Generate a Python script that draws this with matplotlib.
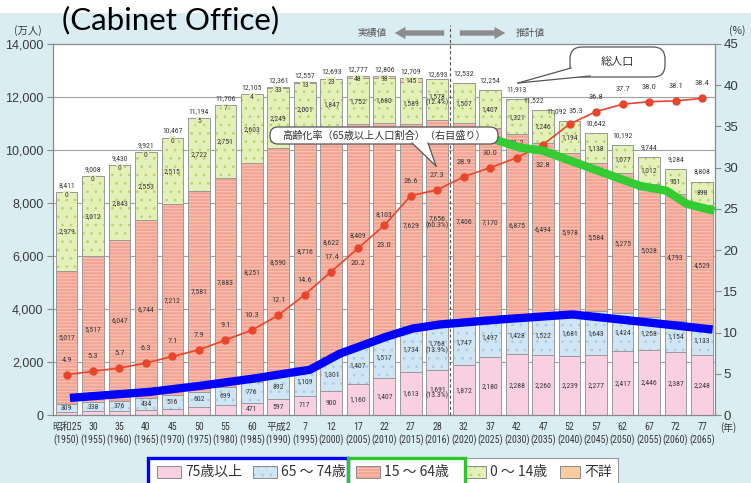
import numpy as np
import matplotlib
matplotlib.use('Agg')
import matplotlib.pyplot as plt
from matplotlib import font_manager as fm
from matplotlib.patches import Rectangle, FancyBboxPatch, Polygon, FancyArrowPatch
from matplotlib.lines import Line2D

# ---------------- data ----------------
era_labels = ['昭和25', '30', '35', '40', '45', '50', '55', '60', '平成2', '7', '12', '17',
              '22', '27', '28', '32', '37', '42', '47', '52', '57', '62', '67', '72', '77']
year_labels = [1950, 1955, 1960, 1965, 1970, 1975, 1980, 1985, 1990, 1995, 2000, 2005,
               2010, 2015, 2016, 2020, 2025, 2030, 2035, 2040, 2045, 2050, 2055, 2060, 2065]
pop_75plus = [107, 139, 164, 189, 224, 284, 366, 471, 597, 717, 900, 1160, 1407, 1613, 1691,
              1872, 2180, 2288, 2260, 2239, 2277, 2417, 2446, 2387, 2248]
pop_65_74 = [309, 338, 376, 434, 516, 602, 699, 776, 892, 1109, 1301, 1407, 1517, 1734, 1768,
             1747, 1497, 1428, 1522, 1681, 1643, 1424, 1258, 1154, 1133]
pop_15_64 = [5017, 5517, 6047, 6744, 7212, 7581, 7883, 8251, 8590, 8716, 8622, 8409, 8103, 7629,
             7656, 7406, 7170, 6875, 6494, 5978, 5584, 5275, 5028, 4793, 4529]
pop_0_14 = [2979, 3012, 2843, 2553, 2515, 2722, 2751, 2603, 2249, 2001, 1847, 1752, 1680, 1589,
            1578, 1507, 1407, 1321, 1246, 1194, 1138, 1077, 1012, 951, 898]
pop_unknown = [0, 0, 0, 0, 0, 5, 7, 4, 33, 13, 23, 48, 98, 145] + [np.nan] * 11
total_pop = [8411, 9008, 9430, 9921, 10467, 11194, 11706, 12105, 12361, 12557, 12693, 12777,
             12806, 12709, 12693, 12532, 12254, 11913, 11522, 11092, 10642, 10192, 9744, 9284, 8808]
aging_rate = [4.9, 5.3, 5.7, 6.3, 7.1, 7.9, 9.1, 10.3, 12.1, 14.6, 17.4, 20.2, 23.0, 26.6, 27.3,
              28.9, 30.0, 31.2, 32.8, 35.3, 36.8, 37.7, 38.0, 38.1, 38.4]
share_2016 = {'75plus': '(13.3%)', '65_74': '(13.9%)', '15_64': '(60.3%)', '0_14': '(12.4%)'}
left_ticks = [0, 2000, 4000, 6000, 8000, 10000, 12000, 14000]
right_ticks = [0, 5, 10, 15, 20, 25, 30, 35, 40, 45]
legend_labels = ['75歳以上', '65 ～ 74歳', '15 ～ 64歳', '0 ～ 14歳', '不詳']
# hand-drawn highlight strokes (x = bar index, y = 万人)
blue_x = [0.13, 3.15, 5.04, 7.0, 9.19, 10.32, 12.09, 13.08, 14.09, 16.36, 19.11, 21.64, 24.4]
blue_y = [645, 873, 1100, 1366, 1707, 2314, 2959, 3263, 3415, 3604, 3794, 3528, 3225]
green_x = [16.06, 17.11, 17.98, 19.75, 21.64, 22.66, 23.42, 24.47]
green_y = [10434, 10092, 9979, 9334, 8650, 8461, 7968, 7702]

# ---------------- fonts ----------------
names = {f.name for f in fm.fontManager.ttflist}
NARROW = next((n for n in ['Liberation Sans Narrow', 'Roboto Condensed', 'Open Sans Condensed']
               if n in names), 'Liberation Sans')
JP = 'Noto Sans CJK JP'
NUMF = [NARROW, JP, 'DejaVu Sans']
JPF = [JP, 'DejaVu Sans']
plt.rcParams['font.family'] = NUMF
plt.rcParams['hatch.linewidth'] = 0.7

# ---------------- colours ----------------
BG = '#d9edf2'
C75 = '#f8d0e1'
C65 = '#cfe5f4'
C65H = '#a9cbe6'
C15 = '#f4a492'
C15H = '#f9c8bc'
C0 = '#e3f0b8'
C0H = '#b9d274'
CUN = '#f8cba0'
EDGE = '#9a9a9a'
TXT = '#3a3a3a'
RED = '#e8452c'

W, H = 751, 483
def fx(px): return px / W
def fy(py): return 1 - py / H
PXD = 14000 / 371.0   # data units per pixel (left axis)

fig = plt.figure(figsize=(W / 100, H / 100), dpi=100, facecolor=BG)
fig.patches.append(Rectangle((0, fy(13)), 1, 13 / H, transform=fig.transFigure,
                             facecolor='white', edgecolor='none', zorder=0))

ax = fig.add_axes([fx(53), fy(415), (715 - 53) / W, (415 - 44) / H])
ax.set_facecolor('white')
ax.set_xlim(-0.51, 24.49)
ax.set_ylim(0, 14000)
x = np.arange(len(era_labels))
bw = 0.82

ax.set_axisbelow(True)
ax.grid(axis='y', color='#a0a0a0', lw=0.8)

def seg(vals, bottom, fc, hatch=None, hc=None):
    ax.bar(x, vals, bw, bottom=bottom, color=fc, lw=0, zorder=2)
    if hatch:
        ax.bar(x, vals, bw, bottom=bottom, fill=False, hatch=hatch, edgecolor=hc, lw=0, zorder=2.1)
    ax.bar(x, vals, bw, bottom=bottom, fill=False, edgecolor=EDGE, lw=0.7, zorder=2.2)

a75 = np.array(pop_75plus, float)
a65 = np.array(pop_65_74, float)
a15 = np.array(pop_15_64, float)
a0 = np.array(pop_0_14, float)
aun = np.nan_to_num(np.array(pop_unknown, float))
b1 = a75
b2 = b1 + a65
b3 = b2 + a15
b4 = b3 + a0
top = b4 + aun

seg(a75, 0, C75)
seg(a65, b1, C65, '..', C65H)
seg(a15, b2, C15, '-----', C15H)
seg(a0, b3, C0, '..', C0H)
seg(aun, b4, CUN)

def lab(xi, yi, s, dx=0, dy=0, fs=5.6, **kw):
    ax.annotate(s, (xi, yi), xytext=(dx * 0.72, dy * 0.72), textcoords='offset points',
                ha='center', va='center', fontsize=fs, color=TXT, zorder=6,
                family=NUMF, linespacing=1.0, **kw)

for i in x:
    # 75+
    s = f'{pop_75plus[i]:,}'
    if i == 14:
        s += '\n' + share_2016['75plus']
    if a75[i] < 400:
        lab(i, -45, s)
    else:
        lab(i, a75[i] / 2, s)
    # 65-74
    s = f'{pop_65_74[i]:,}'
    if i == 14:
        s += '\n' + share_2016['65_74']
    lab(i, b1[i] + a65[i] / 2, s)
    # 15-64
    s = f'{pop_15_64[i]:,}'
    if i == 14:
        s += '\n' + share_2016['15_64']
    lab(i, b2[i] + a15[i] / 2, s, dy=16 if i == 12 else 0)
    # 0-14
    s = f'{pop_0_14[i]:,}'
    if i == 14:
        s += '\n' + share_2016['0_14']
    lab(i, b3[i] + a0[i] / 2, s)
    # unknown
    if not np.isnan(pop_unknown[i]):
        lab(i, top[i], f'{int(pop_unknown[i]):,}', dy=-3,
            bbox=dict(boxstyle='square,pad=0.15', fc=C0, ec='none'))
    # total
    tdy = 7 if i <= 13 else (4 if i == 14 else 10)
    tdx = {18: -9, 19: -13}.get(i, 0)
    lab(i, top[i], f'{total_pop[i]:,}', dx=tdx, dy=tdy)

# projection divider
ax.plot([14.5, 14.5], [0, 390 * PXD], ls=(0, (3, 2)), color='#555555', lw=0.8,
        clip_on=False, zorder=3)

# axes styling
for sp in ['left', 'bottom', 'top']:
    ax.spines[sp].set_color('#8a8a8a')
    ax.spines[sp].set_linewidth(0.9)
ax.spines['right'].set_visible(False)
ax.set_yticks(left_ticks, [f'{v:,}' for v in left_ticks])
ax.tick_params(axis='y', direction='out', length=4, color='#8a8a8a', pad=3,
               labelsize=9, labelcolor=TXT)
for t in ax.get_yticklabels():
    t.set_family(['Liberation Sans', 'DejaVu Sans'])
ax.set_xticks(x, [f'{e}\n({y})' for e, y in zip(era_labels, year_labels)])
ax.tick_params(axis='x', length=0, pad=5, labelsize=7.1, labelcolor=TXT)
for t in ax.get_xticklabels():
    t.set_family(NUMF)
    t.set_linespacing(1.3)

# aging rate on right axis
ax2 = ax.twinx()
ax2.set_ylim(0, 45)
ax2.set_yticks(right_ticks)
for sp in ['left', 'bottom', 'top']:
    ax2.spines[sp].set_visible(False)
ax2.spines['right'].set_color('#8a8a8a')
ax2.spines['right'].set_linewidth(0.9)
ax2.tick_params(axis='y', direction='out', length=4, color='#8a8a8a', pad=2,
                labelsize=9.5, labelcolor=TXT)
for t in ax2.get_yticklabels():
    t.set_family(['Liberation Sans', 'DejaVu Sans'])
ax2.plot(x, aging_rate, color=RED, lw=1.2, marker='o', ms=5, zorder=4)
rate_off = {11: (0, -15), 12: (0, -20), 18: (0, -20), 19: (6, 13)}
for i, v in enumerate(aging_rate):
    ddx, ddy = rate_off.get(i, (0, 15))
    ax2.annotate(f'{v:.1f}', (i, v), xytext=(ddx * 0.72, ddy * 0.72),
                 textcoords='offset points', ha='center', va='center', fontsize=6,
                 color=TXT, family=NUMF, zorder=5)

# highlight strokes
ax2.plot(blue_x, blue_y, transform=ax.transData, color='#0000ff', lw=6,
         solid_capstyle='butt', solid_joinstyle='round', zorder=8, clip_on=False)
ax2.plot(green_x, green_y, transform=ax.transData, color='#33cc33', lw=6,
         solid_capstyle='butt', solid_joinstyle='round', zorder=8, clip_on=False)

# ---------------- figure-level annotations ----------------
fig.text(fx(62), fy(20), '(Cabinet Office)', fontsize=22.5, family=['Lato', 'DejaVu Sans'],
         va='center', ha='left', color='black', zorder=10)
fig.text(fx(28), fy(31), '(万人)', fontsize=7.5, family=JPF, ha='center', va='center', color=TXT)
fig.text(fx(737), fy(31), '(%)', fontsize=7.5, family=JPF, ha='center', va='center', color=TXT)
fig.text(fx(728), fy(428), '(年)', fontsize=7, family=JPF, ha='center', va='center', color=TXT)

fig.text(fx(372), fy(33), '実績値', fontsize=7, family=JPF, ha='center', va='center', color='#555')
fig.text(fx(530), fy(33), '推計値', fontsize=7, family=JPF, ha='center', va='center', color='#555')
for xa, xb in [(447, 392), (457, 508)]:
    fig.patches.append(FancyArrowPatch((fx(xa), fy(33)), (fx(xb), fy(33)),
                                       transform=fig.transFigure,
                                       arrowstyle='simple,head_length=0.7,head_width=0.8,tail_width=0.35',
                                       mutation_scale=11, color='#8c8c8c', lw=0, zorder=6))

def callout(x0, y0, x1, y1, text, fs, tail, rs):
    box = FancyBboxPatch((fx(x0), fy(y1)), fx(x1 - x0), (y1 - y0) / H,
                         boxstyle=f'round,pad=0,rounding_size={rs / W}',
                         transform=fig.transFigure, facecolor='white', edgecolor='#555555',
                         lw=0.9, zorder=11, mutation_aspect=W / H)
    fig.patches.append(box)
    pts = [(fx(px), fy(py)) for px, py in tail]
    fig.patches.append(Polygon(pts, closed=True, transform=fig.transFigure,
                               facecolor='white', edgecolor='none', zorder=12))
    for p in (pts[0], pts[2]):
        fig.lines.append(Line2D([p[0], pts[1][0]], [p[1], pts[1][1]], transform=fig.transFigure,
                                color='#555555', lw=0.9, zorder=13))
    fig.text(fx((x0 + x1) / 2), fy((y0 + y1) / 2), text, fontsize=fs, family=JPF,
             ha='center', va='center', color='#333333', zorder=14)

callout(570, 47, 665, 77, '総人口', 8, [(571, 68), (518, 83), (590, 76)], 12)
callout(270, 127, 498, 144, '高齢化率（65歳以上人口割合）（右目盛り）', 7.3,
        [(412, 143), (436, 166), (428, 143)], 8)

# ---------------- legend ----------------
fig.patches.append(Rectangle((fx(148), fy(485)), fx(618 - 148), (485 - 458) / H,
                             transform=fig.transFigure, facecolor='white', edgecolor='#9a9a9a',
                             lw=0.8, zorder=3))
leg_items = [(157, C75, None, None), (253, C65, '..', C65H), (356, C15, '-----', C15H),
             (466, C0, '..', C0H), (560, CUN, None, None)]
for (sx, fc, hatch, hc), lbl in zip(leg_items, legend_labels):
    sw = 24 if sx < 400 else 20
    r = (fx(sx), fy(478)), fx(sw), 12 / H
    fig.patches.append(Rectangle(*r, transform=fig.transFigure, facecolor=fc, edgecolor='none', zorder=4))
    if hatch:
        fig.patches.append(Rectangle(*r, transform=fig.transFigure, fill=False, hatch=hatch,
                                     edgecolor=hc, lw=0, zorder=4.1))
    fig.patches.append(Rectangle(*r, transform=fig.transFigure, fill=False, edgecolor='#8a8a8a',
                                 lw=0.7, zorder=4.2))
    fig.text(fx(sx + sw + 4), fy(472), lbl, fontsize=10, family=JPF, ha='left', va='center',
             color='#333333', zorder=5)

fig.patches.append(Rectangle((fx(148), fy(486)), fx(200), (486 - 458) / H, transform=fig.transFigure,
                             fill=False, edgecolor='#0000ff', lw=2.4, zorder=7))
fig.patches.append(Rectangle((fx(348), fy(486)), fx(117), (486 - 458) / H, transform=fig.transFigure,
                             fill=False, edgecolor='#2fc52f', lw=2.4, zorder=7))

fig.savefig('out.png', dpi=100, facecolor=BG)
